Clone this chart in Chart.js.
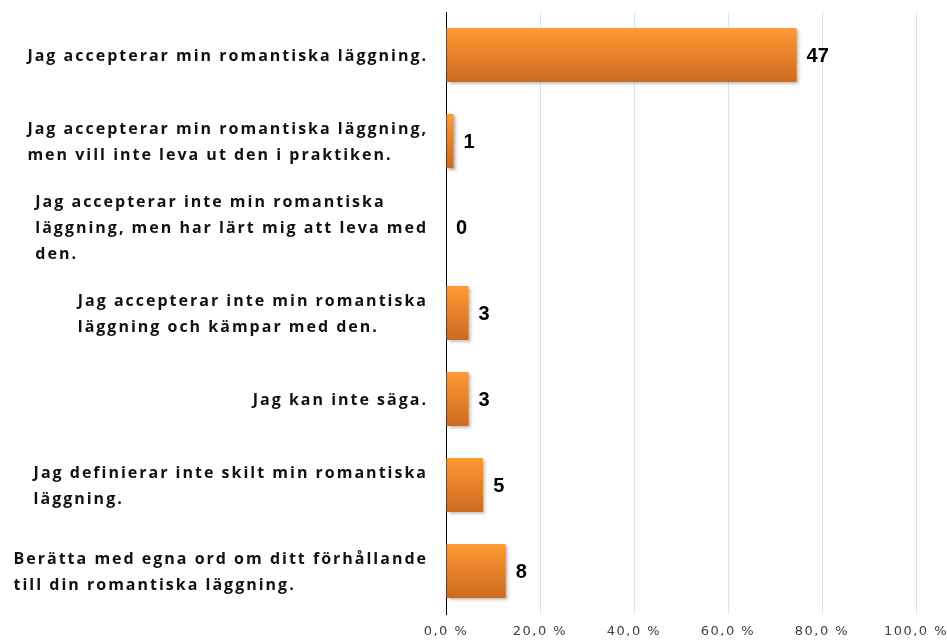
<!DOCTYPE html>
<html>
<head>
<meta charset="utf-8">
<script src="https://cdn.jsdelivr.net/npm/chart.js@4/dist/chart.umd.min.js"></script>
<style>
    body { margin: 0; background: #fff; }
    #contenedor { width: 947px; height: 642px; }
</style>
</head>
<body>
<div id="contenedor"><canvas id="grafico"></canvas></div>
<script>
// kategorier (en rad per element)
var kategorier = [
    ['Jag accepterar min romantiska läggning.'],
    ['Jag accepterar min romantiska läggning,', 'men vill inte leva ut den i praktiken.'],
    ['Jag accepterar inte min romantiska', 'läggning, men har lärt mig att leva med', 'den.'],
    ['Jag accepterar inte min romantiska', 'läggning och kämpar med den.'],
    ['Jag kan inte säga.'],
    ['Jag definierar inte skilt min romantiska', 'läggning.'],
    ['Berätta med egna ord om ditt förhållande', 'till din romantiska läggning.']
];

// andel i procent (avläst) och antal svar
var procent = [74.6, 1.6, 0, 4.8, 4.8, 7.9, 12.7];
var antal = [47, 1, 0, 3, 3, 5, 8];

var xTicks = [0, 20, 40, 60, 80, 100];

// gradient per stapel, uppifrån ljus -> mörk
function stapelFarg(context) {
    const chart = context.chart;
    const y = chart.scales.y;
    if (!chart.chartArea || !y) return '#f08a2c';
    const mitt = y.getPixelForValue(context.dataIndex);
    const h = (chart.chartArea.bottom - chart.chartArea.top) / kategorier.length * 0.63;
    const g = chart.ctx.createLinearGradient(0, mitt - h / 2, 0, mitt + h / 2);
    g.addColorStop(0, '#ff9a34');
    g.addColorStop(1, '#cc6a22');
    return g;
}

const textPlugin = {
    id: 'textPlugin',
    beforeDatasetsDraw(chart) {
        const ctx = chart.ctx;
        ctx.save();
        ctx.shadowColor = 'rgba(0,0,0,0.3)';
        ctx.shadowOffsetX = 2;
        ctx.shadowOffsetY = 2;
        ctx.shadowBlur = 3;
    },
    afterDatasetsDraw(chart) {
        chart.ctx.restore();
    },
    afterDraw(chart) {
        const ctx = chart.ctx;
        const yScale = chart.scales.y;
        const xScale = chart.scales.x;
        const area = chart.chartArea;

        // kategoritexter: blocket högerställt, raderna vänsterställda
        ctx.save();
        ctx.font = 'bold 16px "Open Sans"';
        ctx.letterSpacing = '2px';
        ctx.fillStyle = '#111';
        ctx.textBaseline = 'middle';
        ctx.textAlign = 'left';
        const radHojd = 26;
        kategorier.forEach((rader, i) => {
            const mitt = yScale.getPixelForValue(i);
            // sista bokstavens mellanrum räknas inte
            const bredd = Math.max(...rader.map(r => ctx.measureText(r).width)) - 2;
            const x0 = area.left - 20 - bredd;
            const start = mitt - (rader.length - 1) * radHojd / 2 + 1;
            rader.forEach((r, j) => ctx.fillText(r, x0, start + j * radHojd));
        });
        ctx.restore();

        // x-axelns etiketter
        ctx.save();
        ctx.font = '13px "DejaVu Sans"';
        ctx.letterSpacing = '1.5px';
        ctx.fillStyle = '#404040';
        ctx.textAlign = 'center';
        ctx.textBaseline = 'middle';
        xTicks.forEach(v => {
            const txt = v.toFixed(1).replace('.', ',') + ' %';
            ctx.fillText(txt, xScale.getPixelForValue(v), area.bottom + 18);
        });
        ctx.restore();

        // värden vid stapelns slut
        ctx.save();
        ctx.font = 'bold 20px "Liberation Sans"';
        ctx.fillStyle = '#000';
        ctx.textAlign = 'left';
        ctx.textBaseline = 'middle';
        const meta = chart.getDatasetMeta(0);
        meta.data.forEach((bar, i) => {
            ctx.fillText(String(antal[i]), bar.x + 10, bar.y + 1);
        });
        ctx.restore();
    }
};

const ctx = document.getElementById('grafico').getContext('2d');
new Chart(ctx, {
    type: 'bar',
    data: {
        labels: kategorier,
        datasets: [{
            data: procent,
            backgroundColor: stapelFarg,
            borderWidth: 0,
            barPercentage: 0.63,
            categoryPercentage: 1
        }]
    },
    options: {
        indexAxis: 'y',
        responsive: true,
        maintainAspectRatio: false,
        animation: false,
        layout: { padding: { top: 12, right: 31, left: 0, bottom: 0 } },
        scales: {
            x: {
                min: 0,
                max: 100,
                ticks: { stepSize: 20, display: false },
                grid: { color: '#d9e3f1', drawTicks: false },
                border: { display: false },
                afterFit: scale => { scale.height = 28; }
            },
            y: {
                ticks: { display: false },
                grid: { display: false },
                border: { display: true, color: '#000', width: 1 },
                afterFit: scale => { scale.width = 446; }
            }
        },
        plugins: {
            legend: { display: false },
            tooltip: { enabled: false }
        }
    },
    plugins: [textPlugin]
});
</script>
</body>
</html>
